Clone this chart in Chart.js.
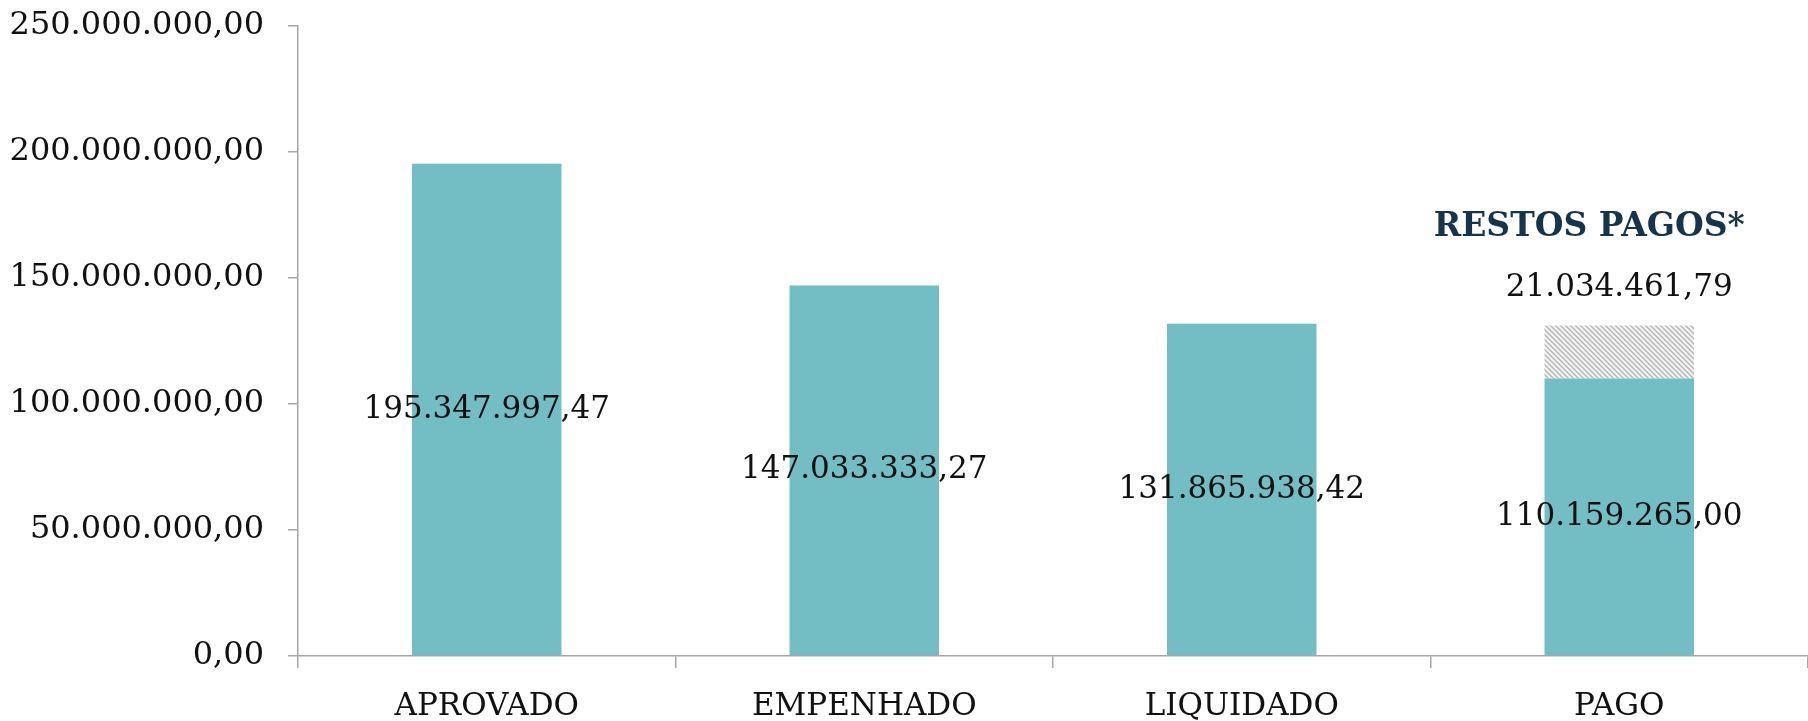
<!DOCTYPE html>
<html>
<head>
<meta charset="utf-8">
<script src="https://cdn.jsdelivr.net/npm/chart.js@4"></script>
<style>
  html, body { margin: 0; padding: 0; background: #fff; }
  #wrap { width: 1808px; height: 721px; }
</style>
</head>
<body>
<div id="wrap"><canvas id="grafico"></canvas></div>
<script>
const categorias = ["APROVADO", "EMPENHADO", "LIQUIDADO", "PAGO"];
const valores = [195347997.47, 147033333.27, 131865938.42, 110159265.00];
const restosPagos = [null, null, null, 21034461.79];
const rotuloRestos = "RESTOS PAGOS*";
const ticksY = [0, 50000000, 100000000, 150000000, 200000000, 250000000];

const fonte = "'DejaVu Serif', serif";

function formatoBR(v) {
  const partes = Number(v).toFixed(2).split(".");
  const inteiro = partes[0].replace(/\B(?=(\d{3})+(?!\d))/g, ".");
  return inteiro + "," + partes[1];
}

// hachura cinza para a parte de restos pagos
function criaHachura() {
  const c = document.createElement('canvas');
  c.width = 5; c.height = 5;
  const g = c.getContext('2d');
  g.fillStyle = '#f2f2f2';
  g.fillRect(0, 0, 5, 5);
  g.strokeStyle = '#b4b4b4';
  g.lineWidth = 1.3;
  g.beginPath();
  g.moveTo(-1, -1); g.lineTo(6, 6);
  g.moveTo(-1, 4); g.lineTo(1, 6);
  g.moveTo(4, -1); g.lineTo(6, 1);
  g.stroke();
  return g.createPattern(c, 'repeat');
}

const rotulosPlugin = {
  id: 'rotulos',
  afterDatasetsDraw(chart) {
    const ctx = chart.ctx;
    ctx.save();
    ctx.textAlign = 'center';
    ctx.textBaseline = 'middle';
    ctx.fillStyle = '#111';
    ctx.font = "31px " + fonte;
    chart.getDatasetMeta(0).data.forEach((bar, i) => {
      ctx.fillText(formatoBR(valores[i]), bar.x, (bar.y + bar.base) / 2);
    });
    chart.getDatasetMeta(1).data.forEach((bar, i) => {
      if (restosPagos[i] == null) return;
      ctx.fillStyle = '#111';
      ctx.font = "31px " + fonte;
      ctx.fillText(formatoBR(restosPagos[i]), bar.x, bar.y - 37);
      ctx.fillStyle = '#17344a';
      ctx.font = "bold 33px " + fonte;
      ctx.fillText(rotuloRestos, bar.x - 30, bar.y - 98);
    });
    ctx.restore();
  }
};

const ctx = document.getElementById('grafico').getContext('2d');

new Chart(ctx, {
  type: 'bar',
  data: {
    labels: categorias,
    datasets: [
      {
        data: valores,
        backgroundColor: '#72bec4',
        barPercentage: 0.396,
        categoryPercentage: 1,
        stack: 's'
      },
      {
        data: restosPagos,
        backgroundColor: criaHachura(),
        barPercentage: 0.396,
        categoryPercentage: 1,
        stack: 's'
      }
    ]
  },
  options: {
    responsive: true,
    maintainAspectRatio: false,
    animation: false,
    layout: { padding: { top: 26, right: 0, left: 0, bottom: 0 } },
    plugins: {
      legend: { display: false },
      tooltip: { enabled: false }
    },
    scales: {
      x: {
        stacked: true,
        grid: {
          offset: true,
          drawOnChartArea: false,
          color: '#a6a6a6',
          tickLength: 12,
          lineWidth: 1.5
        },
        border: { color: '#a6a6a6', width: 1.5 },
        ticks: {
          color: '#111',
          font: { family: fonte, size: 31 },
          padding: 20,
          maxRotation: 0
        },
        afterFit(scale) { scale.height = 65; }
      },
      y: {
        stacked: true,
        min: 0,
        max: 250000000,
        afterBuildTicks(scale) { scale.ticks = ticksY.map(v => ({ value: v })); },
        grid: {
          drawOnChartArea: false,
          color: '#a6a6a6',
          tickLength: 10,
          lineWidth: 1.5
        },
        border: { color: '#a6a6a6', width: 1.5 },
        ticks: {
          color: '#111',
          font: { family: fonte, size: 32 },
          padding: 24,
          callback: v => formatoBR(v)
        },
        afterFit(scale) {
          scale.width = 298;
          scale.paddingTop = 0;
          scale.paddingBottom = 0;
        }
      }
    }
  },
  plugins: [rotulosPlugin]
});
</script>
</body>
</html>
